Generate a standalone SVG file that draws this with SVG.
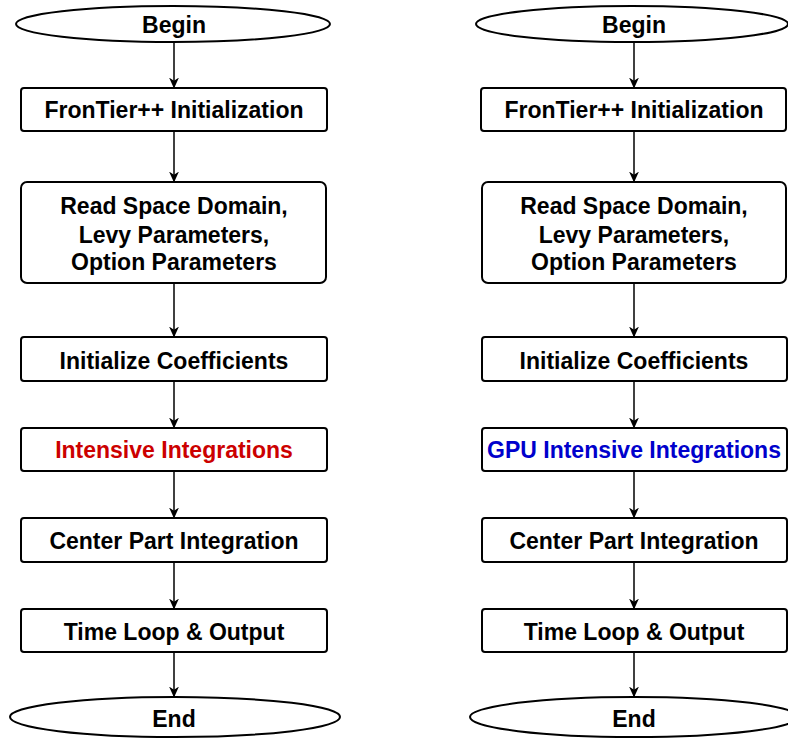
<svg xmlns="http://www.w3.org/2000/svg" width="788" height="738" viewBox="0 0 788 738">
<defs>
<style>
.n{fill:#fff;stroke:#000;stroke-width:2}
.t{font-family:"Liberation Sans",Arial,sans-serif;font-weight:bold;font-size:23px;text-anchor:middle;fill:#000}
.red{fill:#cc0000}
.blue{fill:#0000cc}
.c{stroke:#000;stroke-width:1.5;fill:none;marker-end:url(#ah)}
</style>
<marker id="ah" viewBox="0 0 10 10" refX="9.5" refY="5" markerWidth="11" markerHeight="11" markerUnits="userSpaceOnUse" orient="auto">
<path d="M0,0.5 L10,5 L0,9.5 L3,5 Z" fill="#000"/>
</marker>
</defs>
<rect width="788" height="738" fill="#fff"/>
<g id="connectors">
<line class="c" x1="174" y1="42" x2="174" y2="88"/>
<line class="c" x1="174" y1="131" x2="174" y2="182"/>
<line class="c" x1="174" y1="283" x2="174" y2="337"/>
<line class="c" x1="174" y1="381" x2="174" y2="428"/>
<line class="c" x1="174" y1="471" x2="174" y2="518"/>
<line class="c" x1="174" y1="562" x2="174" y2="609"/>
<line class="c" x1="174" y1="652" x2="174" y2="697"/>
<line class="c" x1="634" y1="42" x2="634" y2="88"/>
<line class="c" x1="634" y1="131" x2="634" y2="182"/>
<line class="c" x1="634" y1="283" x2="634" y2="337"/>
<line class="c" x1="634" y1="381" x2="634" y2="428"/>
<line class="c" x1="634" y1="471" x2="634" y2="518"/>
<line class="c" x1="634" y1="562" x2="634" y2="609"/>
<line class="c" x1="634" y1="652" x2="634" y2="697"/>
</g>
<g id="L-begin"><ellipse class="n" cx="173" cy="24" rx="157" ry="18"/><text class="t" x="174" y="33">Begin</text></g>
<g id="L-init"><rect class="n" x="21" y="88" width="306" height="43" rx="3"/><text class="t" x="174" y="118">FronTier++ Initialization</text></g>
<g id="L-read"><rect class="n" x="21" y="182" width="305" height="101" rx="6"/><text class="t" x="174" y="214">Read Space Domain,</text><text class="t" x="174" y="243">Levy Parameters,</text><text class="t" x="174" y="270">Option Parameters</text></g>
<g id="L-coef"><rect class="n" x="21" y="337" width="306" height="44" rx="3"/><text class="t" x="174" y="369">Initialize Coefficients</text></g>
<g id="L-intensive"><rect class="n" x="21" y="428" width="306" height="43" rx="3"/><text class="t red" x="174" y="458">Intensive Integrations</text></g>
<g id="L-center"><rect class="n" x="21" y="518" width="306" height="44" rx="3"/><text class="t" x="174" y="549">Center Part Integration</text></g>
<g id="L-time"><rect class="n" x="21" y="609" width="306" height="43" rx="3"/><text class="t" x="174" y="640">Time Loop &amp; Output</text></g>
<g id="L-end"><ellipse class="n" cx="175" cy="717" rx="165" ry="20"/><text class="t" x="174" y="727">End</text></g>
<g id="R-begin"><ellipse class="n" cx="632" cy="24" rx="156" ry="18"/><text class="t" x="634" y="33">Begin</text></g>
<g id="R-init"><rect class="n" x="481" y="88" width="305" height="43" rx="3"/><text class="t" x="634" y="118">FronTier++ Initialization</text></g>
<g id="R-read"><rect class="n" x="482" y="182" width="304" height="101" rx="6"/><text class="t" x="634" y="214">Read Space Domain,</text><text class="t" x="634" y="243">Levy Parameters,</text><text class="t" x="634" y="270">Option Parameters</text></g>
<g id="R-coef"><rect class="n" x="482" y="337" width="305" height="44" rx="3"/><text class="t" x="634" y="369">Initialize Coefficients</text></g>
<g id="R-intensive"><rect class="n" x="482" y="428" width="305" height="43" rx="3"/><text class="t blue" x="634" y="458">GPU Intensive Integrations</text></g>
<g id="R-center"><rect class="n" x="482" y="518" width="305" height="44" rx="3"/><text class="t" x="634" y="549">Center Part Integration</text></g>
<g id="R-time"><rect class="n" x="482" y="609" width="305" height="43" rx="3"/><text class="t" x="634" y="640">Time Loop &amp; Output</text></g>
<g id="R-end"><ellipse class="n" cx="634" cy="717" rx="164" ry="20"/><text class="t" x="634" y="727">End</text></g>
</svg>
